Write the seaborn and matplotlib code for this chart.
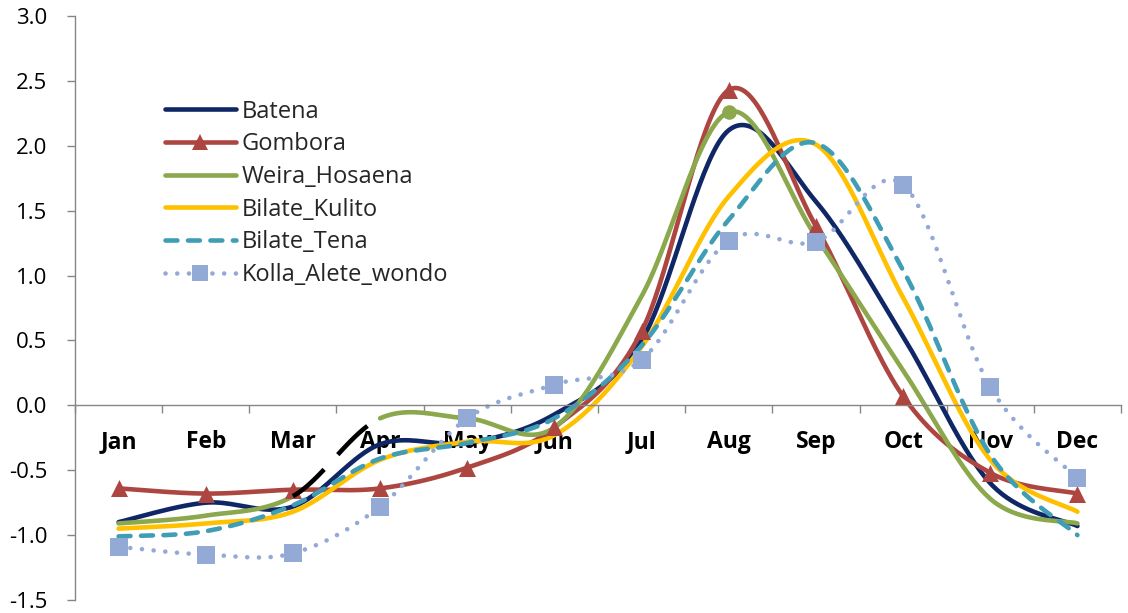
import numpy as np
import seaborn as sns
import matplotlib
matplotlib.use("Agg")
import matplotlib.pyplot as plt
from matplotlib.lines import Line2D

# Monthly standardized anomaly per station
months = ["Jan", "Feb", "Mar", "Apr", "May", "Jun",
          "Jul", "Aug", "Sep", "Oct", "Nov", "Dec"]
batena = [-0.90, -0.75, -0.78, -0.30, -0.29, -0.07, 0.50, 2.12, 1.57, 0.53, -0.60, -0.93]
gombora = [-0.64, -0.68, -0.65, -0.64, -0.48, -0.17, 0.57, 2.43, 1.38, 0.07, -0.52, -0.68]
weira_hosaena = [-0.91, -0.85, -0.70, -0.10, -0.10, -0.17, 0.84, 2.26, 1.30, 0.27, -0.72, -0.91]
bilate_kulito = [-0.95, -0.91, -0.82, -0.42, -0.28, -0.23, 0.45, 1.61, 2.01, 0.83, -0.42, -0.82]
bilate_tena = [-1.01, -0.97, -0.77, -0.41, -0.29, -0.10, 0.46, 1.43, 2.02, 1.04, -0.38, -1.00]
kolla_alete_wondo = [-1.09, -1.15, -1.14, -0.78, -0.10, 0.16, 0.35, 1.27, 1.26, 1.70, 0.14, -0.56]
y_ticks = [-1.5, -1.0, -0.5, 0.0, 0.5, 1.0, 1.5, 2.0, 2.5, 3.0]

sns.set_style("white")
plt.rcParams["font.family"] = ["Open Sans", "DejaVu Sans"]

C_NAVY = "#0F2766"
C_RED = "#AD4641"
C_GREEN = "#8BA84C"
C_YELLOW = "#FFC000"
C_TEAL = "#3F9DB6"
C_LBLUE = "#93A9D6"
LW = 3.3
TEAL_DASH = (0, (2.6, 2.3))
DOTS = (0, (0.01, 2.55))


def smooth(vals, n=40):
    """Bezier smoothing through every point (Catmull-Rom style control points)."""
    y = np.asarray(vals, dtype=float)
    x = np.arange(len(y), dtype=float)
    xp = np.concatenate([[x[0]], x, [x[-1]]])
    yp = np.concatenate([[y[0]], y, [y[-1]]])
    xs, ys = [], []
    t = np.linspace(0, 1, n)
    for i in range(len(y) - 1):
        px = xp[i:i + 4]
        py = yp[i:i + 4]
        bx = [px[1], px[1] + (px[2] - px[0]) / 6, px[2] - (px[3] - px[1]) / 6, px[2]]
        by = [py[1], py[1] + (py[2] - py[0]) / 6, py[2] - (py[3] - py[1]) / 6, py[2]]
        b = [(1 - t) ** 3, 3 * (1 - t) ** 2 * t, 3 * (1 - t) * t ** 2, t ** 3]
        xs.append(sum(bi * v for bi, v in zip(b, bx)))
        ys.append(sum(bi * v for bi, v in zip(b, by)))
    return np.concatenate(xs), np.concatenate(ys)


fig = plt.figure(figsize=(11.28, 6.13), dpi=100)
ax = fig.add_axes([75 / 1128, 13 / 613, (1121 - 75) / 1128, (600 - 16) / 613])

idx = np.arange(len(months))

# Batena
sx, sy = smooth(batena)
sns.lineplot(x=sx, y=sy, ax=ax, color=C_NAVY, linewidth=LW, sort=False, estimator=None)

# Gombora
sx, sy = smooth(gombora)
sns.lineplot(x=sx, y=sy, ax=ax, color=C_RED, linewidth=LW, sort=False, estimator=None)
sns.scatterplot(x=idx, y=gombora, ax=ax, color=C_RED, marker="^", s=150, linewidth=0, zorder=3)

# Weira_Hosaena (Mar-Apr stretch drawn as black dashes)
sx, sy = smooth(weira_hosaena)
m1 = sx <= 2
m2 = (sx >= 2) & (sx <= 3)
m3 = sx >= 3
sns.lineplot(x=sx[m1], y=sy[m1], ax=ax, color=C_GREEN, linewidth=LW, sort=False, estimator=None)
sns.lineplot(x=sx[m3], y=sy[m3], ax=ax, color=C_GREEN, linewidth=LW, sort=False, estimator=None)
sns.lineplot(x=sx[m2], y=sy[m2], ax=ax, color="black", linewidth=LW, sort=False,
             estimator=None, linestyle=(0, (9.0, 4.4)), zorder=4)
sns.scatterplot(x=[idx[7]], y=[weira_hosaena[7]], ax=ax, color=C_GREEN, marker="o",
                s=110, linewidth=0, zorder=3)

# Bilate_Kulito
sx, sy = smooth(bilate_kulito)
sns.lineplot(x=sx, y=sy, ax=ax, color=C_YELLOW, linewidth=LW, sort=False, estimator=None)

# Bilate_Tena
sx, sy = smooth(bilate_tena)
sns.lineplot(x=sx, y=sy, ax=ax, color=C_TEAL, linewidth=LW, sort=False, estimator=None,
             linestyle=TEAL_DASH, dash_capstyle="round")

# Kolla_Alete_wondo
sx, sy = smooth(kolla_alete_wondo)
sns.lineplot(x=sx, y=sy, ax=ax, color=C_LBLUE, linewidth=LW, sort=False, estimator=None,
             linestyle=DOTS, dash_capstyle="round")
sns.scatterplot(x=idx, y=kolla_alete_wondo, ax=ax, color=C_LBLUE, marker="s", s=160,
                linewidth=0, zorder=3)

# Axes styling
ax.set_xlim(-0.5, 11.5)
ax.set_ylim(-1.5, 3.0)
for side in ("top", "right"):
    ax.spines[side].set_visible(False)
ax.spines["bottom"].set_position(("data", 0))
for side in ("left", "bottom"):
    ax.spines[side].set_color("#868686")
    ax.spines[side].set_linewidth(1.0)

ax.set_yticks(y_ticks)
ax.set_yticklabels([f"{v:.1f}" for v in y_ticks])
ax.tick_params(axis="y", direction="out", length=6, width=1, color="#868686",
               pad=14, labelsize=16, labelcolor="black", left=True)

ax.set_xticks(idx)
ax.set_xticklabels(months, fontweight="bold")
ax.tick_params(axis="x", which="major", length=0, pad=18, labelsize=16.5, labelcolor="black")
ax.set_xticks(np.arange(-0.5, 12, 1), minor=True)
ax.tick_params(axis="x", which="minor", direction="out", length=6, width=1,
               color="#868686", bottom=True)
ax.set_xlabel("")
ax.set_ylabel("")
ax.grid(False)

handles = [
    Line2D([], [], color=C_NAVY, linewidth=LW),
    Line2D([], [], color=C_RED, linewidth=LW, marker="^", markersize=12, markeredgewidth=0),
    Line2D([], [], color=C_GREEN, linewidth=LW),
    Line2D([], [], color=C_YELLOW, linewidth=LW),
    Line2D([], [], color=C_TEAL, linewidth=LW, linestyle=TEAL_DASH, dash_capstyle="round"),
    Line2D([], [], color=C_LBLUE, linewidth=LW, linestyle=DOTS,
           dash_capstyle="round", marker="s", markersize=12, markeredgewidth=0),
]
labels = ["Batena", "Gombora", "Weira_Hosaena", "Bilate_Kulito", "Bilate_Tena",
          "Kolla_Alete_wondo"]
ax.legend(handles, labels, loc="upper left", bbox_to_anchor=(0.086, 0.857),
          frameon=False, fontsize=17, handlelength=3.0, handletextpad=0.26,
          labelspacing=0.37, borderpad=0, borderaxespad=0, numpoints=1)

fig.savefig("out.png", dpi=100)
